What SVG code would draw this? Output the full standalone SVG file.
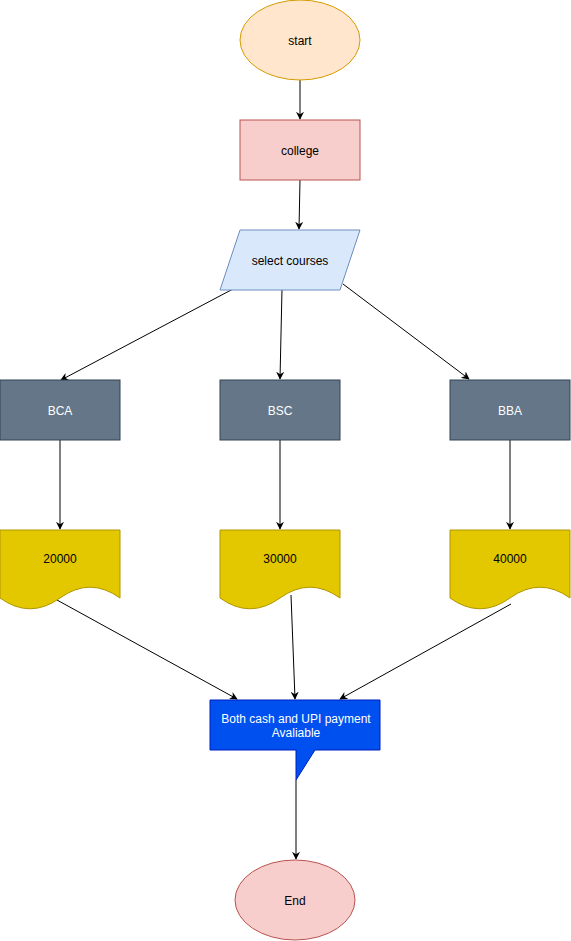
<svg xmlns="http://www.w3.org/2000/svg" width="571" height="941" viewBox="0 0 571 941">
<style>
text{font-family:"Liberation Sans",Arial,sans-serif;font-size:12px;text-anchor:middle;dominant-baseline:central}
.red{fill:#f8cecc;stroke:#b85450}
.gray{fill:#647687;stroke:#314354}
.doc{fill:#e3c800;stroke:#b09500}
.w{fill:#ffffff}
.c{fill:none;stroke:#000;stroke-width:1;marker-end:url(#a)}
</style>
<defs>
<marker id="a" viewBox="0 0 10 10" refX="9" refY="5" markerWidth="8" markerHeight="8" orient="auto" markerUnits="userSpaceOnUse">
<path d="M0,0 L10,5 L0,10 L3,5 Z" fill="#000"/>
</marker>
</defs>
<rect width="571" height="941" fill="#ffffff"/>
<g id="connectors">
<path class="c" d="M300,80 L300,119"/>
<path class="c" d="M300,180 L299,229"/>
<path class="c" d="M233,289 L61,380"/>
<path class="c" d="M282,289 L280,379"/>
<path class="c" d="M343,284 L469,379"/>
<path class="c" d="M60,440 L60,529"/>
<path class="c" d="M280,440 L280,529"/>
<path class="c" d="M510,440 L510,529"/>
<path class="c" d="M57,600 L237,699"/>
<path class="c" d="M291,595 L295,699"/>
<path class="c" d="M511,604 L340,699"/>
<path class="c" d="M296,780 L296,859"/>
</g>
<g id="start"><ellipse cx="300" cy="40" rx="60" ry="40" fill="#ffe6cc" stroke="#d79b00"/><text x="300" y="41">start</text></g>
<g id="college"><rect class="red" x="240" y="120" width="120" height="60"/><text x="300" y="151">college</text></g>
<g id="select"><path d="M240,230 L360,230 L340,290 L220,290 Z" fill="#dae8fc" stroke="#6c8ebf"/><text x="290" y="261">select courses</text></g>
<g id="bca"><rect class="gray" x="0" y="380" width="120" height="60"/><text class="w" x="60" y="411">BCA</text></g>
<g id="bsc"><rect class="gray" x="220" y="380" width="120" height="60"/><text class="w" x="280" y="411">BSC</text></g>
<g id="bba"><rect class="gray" x="450" y="380" width="120" height="60"/><text class="w" x="510" y="411">BBA</text></g>
<g id="d20000"><path class="doc" d="M0,530 L120,530 L120,598 Q90,576.4 60,598 Q30,619.6 0,598 Z"/><text x="60" y="559">20000</text></g>
<g id="d30000"><path class="doc" d="M220,530 L340,530 L340,598 Q310,576.4 280,598 Q250,619.6 220,598 Z"/><text x="280" y="559">30000</text></g>
<g id="d40000"><path class="doc" d="M450,530 L570,530 L570,598 Q540,576.4 510,598 Q480,619.6 450,598 Z"/><text x="510" y="559">40000</text></g>
<g id="payment"><path d="M210,700 L380,700 L380,750 L315,750 L296,780 L296,750 L210,750 Z" fill="#0050ef" stroke="#001dbc"/><text class="w" x="296" y="719">Both cash and UPI payment</text><text class="w" x="296" y="733">Avaliable</text></g>
<g id="end"><ellipse class="red" cx="295" cy="900" rx="60" ry="40"/><text x="295" y="901">End</text></g>
</svg>
